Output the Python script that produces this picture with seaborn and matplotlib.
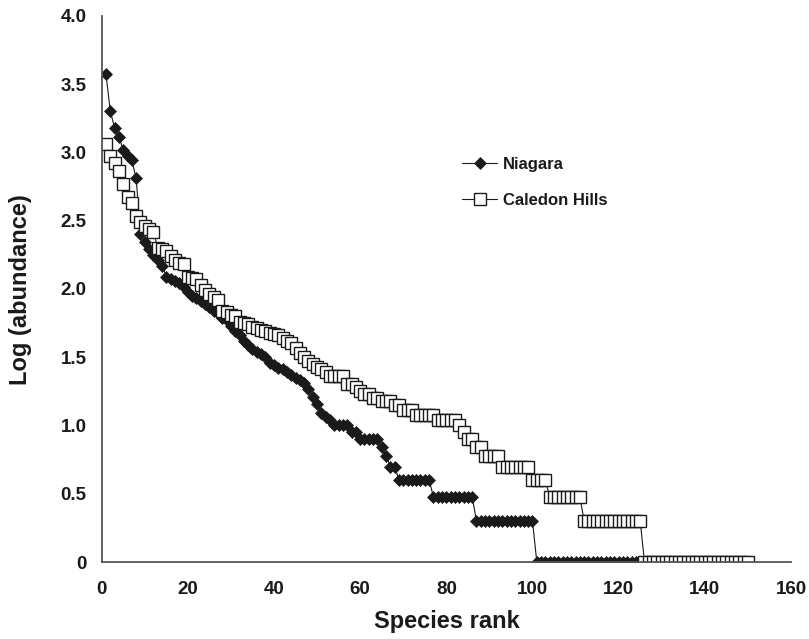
import numpy as np
import matplotlib
matplotlib.use("Agg")
import matplotlib.pyplot as plt
import seaborn as sns
from matplotlib.ticker import FuncFormatter

# log10 abundance by species rank
niagara = [
    3.57, 3.30, 3.18, 3.11, 3.02, 2.97, 2.94, 2.81, 2.40, 2.34,
    2.29, 2.25, 2.21, 2.17, 2.09, 2.07, 2.06, 2.04, 2.01, 1.98,
    1.95, 1.93, 1.91, 1.89, 1.87, 1.84, 1.82, 1.79, 1.77, 1.73,
    1.69, 1.66, 1.62, 1.59, 1.56, 1.54, 1.52, 1.50, 1.46, 1.44,
    1.42, 1.41, 1.39, 1.37, 1.35, 1.33, 1.31, 1.27, 1.21, 1.16,
    1.09, 1.06, 1.04, 1.00, 1.00, 1.00, 1.00, 0.954, 0.954, 0.903,
    0.903, 0.903, 0.903, 0.903, 0.845, 0.778, 0.699, 0.699, 0.602, 0.602,
    0.602, 0.602, 0.602, 0.602, 0.602, 0.602, 0.477, 0.477, 0.477, 0.477,
    0.477, 0.477, 0.477, 0.477, 0.477, 0.477, 0.301, 0.301, 0.301, 0.301,
    0.301, 0.301, 0.301, 0.301, 0.301, 0.301, 0.301, 0.301, 0.301, 0.301,
    0, 0, 0, 0, 0, 0, 0, 0, 0, 0,
    0, 0, 0, 0, 0, 0, 0, 0, 0, 0,
    0, 0, 0, 0,
]
caledon = [
    3.06, 2.97, 2.92, 2.86, 2.77, 2.67, 2.63, 2.53, 2.49, 2.46,
    2.44, 2.42, 2.30, 2.29, 2.28, 2.24, 2.21, 2.19, 2.18, 2.09,
    2.08, 2.07, 2.03, 1.99, 1.96, 1.94, 1.92, 1.84, 1.83, 1.81,
    1.80, 1.76, 1.75, 1.74, 1.72, 1.71, 1.70, 1.69, 1.68, 1.67,
    1.66, 1.64, 1.62, 1.60, 1.57, 1.53, 1.50, 1.47, 1.45, 1.43,
    1.41, 1.39, 1.362, 1.362, 1.362, 1.362, 1.301, 1.301, 1.279, 1.255,
    1.230, 1.230, 1.204, 1.204, 1.176, 1.176, 1.176, 1.146, 1.146, 1.114,
    1.114, 1.114, 1.079, 1.079, 1.079, 1.079, 1.079, 1.041, 1.041, 1.041,
    1.041, 1.041, 1.00, 0.954, 0.903, 0.903, 0.845, 0.845, 0.778, 0.778,
    0.778, 0.778, 0.699, 0.699, 0.699, 0.699, 0.699, 0.699, 0.699, 0.602,
    0.602, 0.602, 0.602, 0.477, 0.477, 0.477, 0.477, 0.477, 0.477, 0.477,
    0.477, 0.301, 0.301, 0.301, 0.301, 0.301, 0.301, 0.301, 0.301, 0.301,
    0.301, 0.301, 0.301, 0.301, 0.301, 0, 0, 0, 0, 0,
    0, 0, 0, 0, 0, 0, 0, 0, 0, 0,
    0, 0, 0, 0, 0, 0, 0, 0, 0, 0,
]
niagara_rank = np.arange(1, len(niagara) + 1)
caledon_rank = np.arange(1, len(caledon) + 1)

sns.set_style("white")
plt.rcParams["font.family"] = ["Liberation Sans", "DejaVu Sans"]
plt.rcParams["font.weight"] = "bold"

ink = "#1a1a1a"
fig = plt.figure(figsize=(8.09, 6.39), dpi=100)
ax = fig.add_axes([0.1257, 0.1205, 0.8520, 0.8549])

sns.lineplot(x=niagara_rank, y=niagara, ax=ax, color=ink, linewidth=0.8,
             marker="D", markersize=6.4, markerfacecolor=ink,
             markeredgecolor=ink, markeredgewidth=0.5, label="Niagara")
sns.lineplot(x=caledon_rank, y=caledon, ax=ax, color=ink, linewidth=0.8,
             marker="s", markersize=8.2, markerfacecolor="white",
             markeredgecolor=ink, markeredgewidth=1.0, label="Caledon Hills")

ax.set_xlim(0, 160)
ax.set_ylim(0, 4.0)
ax.set_xticks(np.arange(0, 161, 20))
ax.set_yticks(np.arange(0, 4.01, 0.5))
ax.yaxis.set_major_formatter(FuncFormatter(lambda v, p: "0" if v == 0 else f"{v:.1f}"))

for side in ["top", "right"]:
    ax.spines[side].set_visible(False)
for side in ["left", "bottom"]:
    ax.spines[side].set_color("#555555")
    ax.spines[side].set_linewidth(1.3)

ax.tick_params(axis="both", direction="out", length=4, width=1.3,
               color="#555555", labelsize=13.5, labelcolor=ink)
ax.tick_params(axis="x", pad=10)
ax.tick_params(axis="y", pad=7)
for lab in ax.get_xticklabels() + ax.get_yticklabels():
    lab.set_fontweight("bold")

ax.set_xlabel("Species rank", fontsize=17, fontweight="bold", color=ink)
ax.set_ylabel("Log (abundance)", fontsize=17, fontweight="bold", color=ink)
ax.xaxis.set_label_coords(0.501, -0.088)
ax.yaxis.set_label_coords(-0.101, 0.498)

leg = ax.legend(loc="upper left", bbox_to_anchor=(0.523, 0.742), frameon=False,
                borderpad=0, borderaxespad=0, handlelength=2.1,
                handletextpad=0.35, labelspacing=1.3,
                prop={"size": 12, "weight": "bold"})
for t in leg.get_texts():
    t.set_color(ink)

fig.savefig("out.png", dpi=100)
